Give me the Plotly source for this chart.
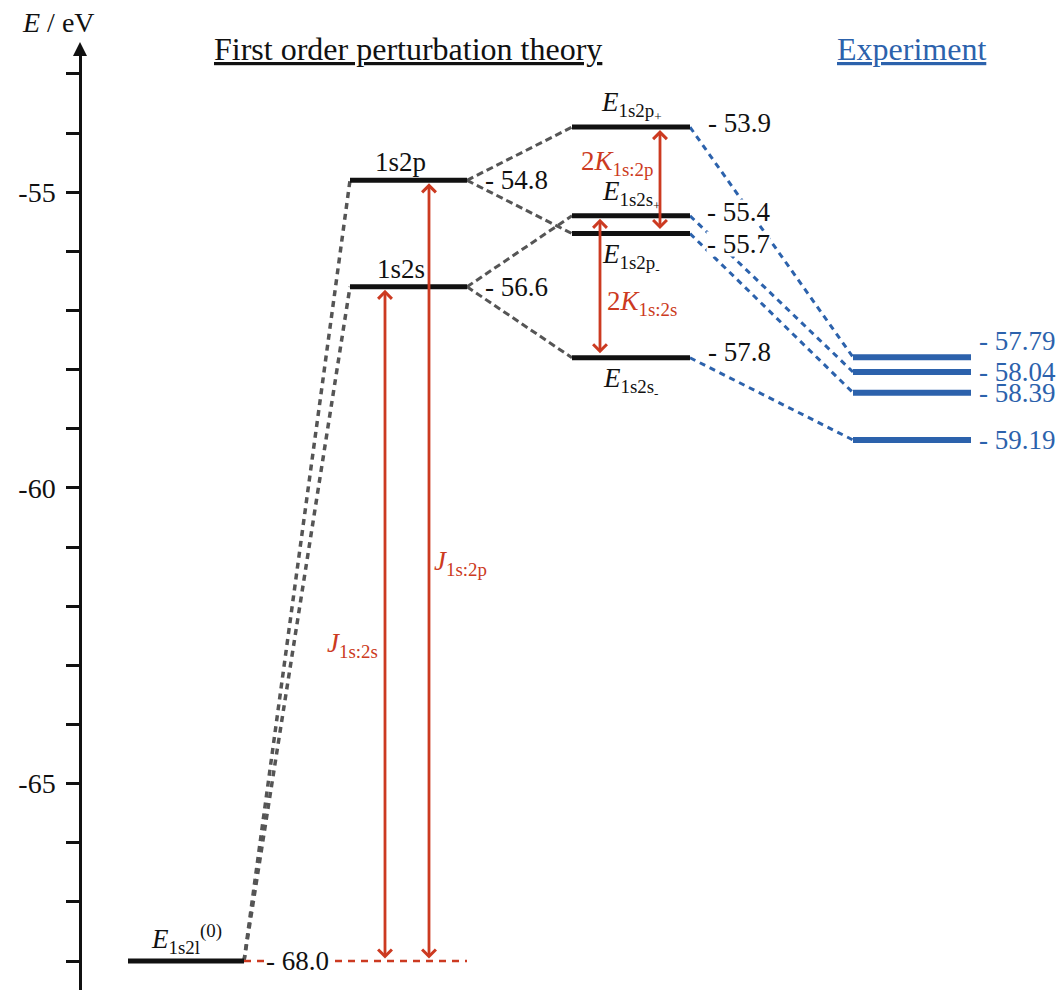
import plotly.graph_objects as go

# ---------------- data ----------------
zeroth_label = "<i>E</i><sub>1s2l</sub><sup>(0)</sup>"
zeroth_energy = [-68.0]

first_labels = ["1s2s", "1s2p"]
first_energies = [-56.6, -54.8]

split_labels = [
    "<i>E</i><sub>1s2p<sub>+</sub></sub>",
    "<i>E</i><sub>1s2s<sub>+</sub></sub>",
    "<i>E</i><sub>1s2p<sub>-</sub></sub>",
    "<i>E</i><sub>1s2s<sub>-</sub></sub>",
]
split_energies = [-53.9, -55.4, -55.7, -57.8]
split_parent = [1, 0, 1, 0]          # index into first_energies

exp_energies = [-57.79, -58.04, -58.39, -59.19]
split_to_exp = [0, 1, 2, 3]          # split level -> experimental level

coulomb_labels = ["<i>J</i><sub>1s:2s</sub>", "<i>J</i><sub>1s:2p</sub>"]
exchange_labels = ["2<i>K</i><sub>1s:2s</sub>", "2<i>K</i><sub>1s:2p</sub>"]

ytick_vals = [-68, -67, -66, -65, -64, -63, -62, -61, -60, -59, -58, -57, -56, -55, -54, -53]
ytick_text = ["", "", "", "-65", "", "", "", "", "-60", "", "", "", "", "-55", "", ""]

title_left = "First order perturbation theory"
title_right = "Experiment"
axis_title = "<i>E</i> / eV"

# ---------------- layout / style ----------------
W, H = 1060, 990
FONT = "Liberation Serif, Times New Roman, serif"
BLACK = "#111111"
GRAY = "#555555"
BLUE = "#2c62ac"
RED = "#cc3a21"

COL0 = (128, 244)
COL1 = (350, 467)
COL2 = (572, 690)
COL3 = (853, 971)
AXIS_X = 80

Y_BOTTOM = -68.49
Y_TOP = -52.63
DOMAIN_TOP = (H - 52) / H

J_X = [385, 429]
K_X = [600, 660]
J_LABEL_Y = [-62.66, -61.27]
K_LABEL_Y = [-56.88, -54.51]

split_label_shift = [4, 4, -10, 6]
exp_label_shift = [16, 0, 0, 0]

fig = go.Figure()


def level(x0, x1, e, color, width):
    fig.add_trace(go.Scatter(x=[x0, x1], y=[e, e], mode="lines",
                             line=dict(color=color, width=width),
                             hoverinfo="skip", showlegend=False))


def link(x0, e0, x1, e1, color, width, dash):
    fig.add_trace(go.Scatter(x=[x0, x1], y=[e0, e1], mode="lines",
                             line=dict(color=color, width=width, dash=dash),
                             hoverinfo="skip", showlegend=False))


# connectors first (under the levels)
for e in first_energies:
    link(COL0[1], zeroth_energy[0], COL1[0], e, GRAY, 3.5, "6px,5px")
for i, e in enumerate(split_energies):
    link(COL1[1], first_energies[split_parent[i]], COL2[0], e, GRAY, 3, "7px,4px")
for i, e in enumerate(split_energies):
    link(COL2[1], e, COL3[0], exp_energies[split_to_exp[i]], BLUE, 3, "6px,5px")

# red dashed reference line at the zeroth-order energy
link(COL0[1], zeroth_energy[0], COL1[1], zeroth_energy[0], RED, 2.5, "7px,6px")

# levels
level(COL0[0], COL0[1], zeroth_energy[0], BLACK, 5)
for e in first_energies:
    level(COL1[0], COL1[1], e, BLACK, 5)
for e in split_energies:
    level(COL2[0], COL2[1], e, BLACK, 5)
for e in exp_energies:
    level(COL3[0], COL3[1], e, BLUE, 6)

ann = []


def text(x, y, t, size=27, color=BLACK, **kw):
    d = dict(x=x, y=y, xref="x", yref="y", text=t, showarrow=False,
             font=dict(family=FONT, size=size, color=color))
    d.update(kw)
    ann.append(d)


# level names
text((COL0[0] + COL0[1]) / 2, zeroth_energy[0], zeroth_label, yanchor="bottom", yshift=1)
for lab, e in zip(first_labels, first_energies):
    text((COL1[0] + COL1[1]) / 2 - 8, e, lab, yanchor="bottom", yshift=1)
for i, (lab, e) in enumerate(zip(split_labels, split_energies)):
    if "+" in lab:
        text((COL2[0] + COL2[1]) / 2, e, lab, yanchor="bottom", yshift=1)
    else:
        text((COL2[0] + COL2[1]) / 2, e, lab, yanchor="top", yshift=-3)

# value labels
text(COL0[1] + 21, zeroth_energy[0], "- %.1f" % abs(zeroth_energy[0]), xanchor="left",
     bgcolor="white", borderpad=0)
for e in first_energies:
    text(COL1[1] + 16, e, "- %.1f" % abs(e), xanchor="left")
for i, e in enumerate(split_energies):
    extra = dict(bgcolor="white", height=24, borderpad=0) if i in (1, 2) else {}
    text(COL2[1] + 16, e, "- %.1f" % abs(e), xanchor="left", yshift=split_label_shift[i], **extra)
for i, e in enumerate(exp_energies):
    text(COL3[1] + 6, e, "- %.2f" % abs(e), xanchor="left", color=BLUE, yshift=exp_label_shift[i])

ARROW = dict(xref="x", yref="y", axref="x", ayref="y", text="", showarrow=True,
             arrowside="end+start", arrowhead=4, startarrowhead=4,
             arrowsize=0.95, startarrowsize=0.95, arrowwidth=2.8, arrowcolor=RED)

# Coulomb (J) arrows
for i in range(2):
    ann.append(dict(x=J_X[i], y=first_energies[i], ax=J_X[i], ay=zeroth_energy[0],
                    standoff=3, startstandoff=1, **ARROW))
text(J_X[0] - 5, J_LABEL_Y[0], coulomb_labels[0], color=RED, xanchor="right")
text(J_X[1] + 3, J_LABEL_Y[1], coulomb_labels[1], color=RED, xanchor="left")

# exchange (2K) arrows between split pairs
pairs = [(1, 3), (0, 2)]  # (upper, lower) index for 1s2s, 1s2p
for i, (u, l) in enumerate(pairs):
    ann.append(dict(x=K_X[i], y=split_energies[u], ax=K_X[i], ay=split_energies[l],
                    standoff=3, startstandoff=3, **ARROW))
text(K_X[0] + 5, K_LABEL_Y[0], exchange_labels[0], color=RED, xanchor="left")
text(K_X[1] - 5, K_LABEL_Y[1], exchange_labels[1], color=RED, xanchor="right")

# titles
ann.append(dict(x=408, y=(H - 49) / H, xref="x", yref="paper", text="<u>%s</u>" % title_left,
                xanchor="center", yanchor="middle",
                showarrow=False, font=dict(family=FONT, size=32, color=BLACK)))
ann.append(dict(x=911, y=(H - 49) / H, xref="x", yref="paper", text="<u>%s</u>" % title_right,
                xanchor="center", yanchor="middle",
                showarrow=False, font=dict(family=FONT, size=32, color=BLUE)))
ann.append(dict(x=20 / W, y=(H - 22) / H, xref="paper", yref="paper", text=axis_title,
                xanchor="left", yanchor="middle", showarrow=False,
                font=dict(family=FONT, size=28, color=BLACK)))

# axis arrow head
ann.append(dict(x=AXIS_X / W, y=(H - 42) / H, xref="paper", yref="paper", ax=0, ay=16,
                text="", showarrow=True, arrowhead=2, arrowsize=1.4, arrowwidth=2,
                arrowcolor=BLACK))

fig.update_layout(
    width=W, height=H, autosize=False,
    margin=dict(l=0, r=0, t=0, b=0),
    paper_bgcolor="white", plot_bgcolor="white",
    showlegend=False,
    xaxis=dict(range=[0, W], domain=[0, 1], visible=False, fixedrange=True),
    yaxis=dict(range=[Y_BOTTOM, Y_TOP], domain=[0, DOMAIN_TOP], anchor="free",
               position=AXIS_X / W, showline=True, linewidth=2.5, linecolor=BLACK,
               ticks="outside", ticklen=13, tickwidth=2.5, tickcolor=BLACK,
               tickvals=ytick_vals, ticktext=ytick_text, ticklabelstandoff=5,
               tickfont=dict(family=FONT, size=28, color=BLACK),
               showgrid=False, zeroline=False, fixedrange=True),
    annotations=ann,
)

fig.write_html("out.html")
